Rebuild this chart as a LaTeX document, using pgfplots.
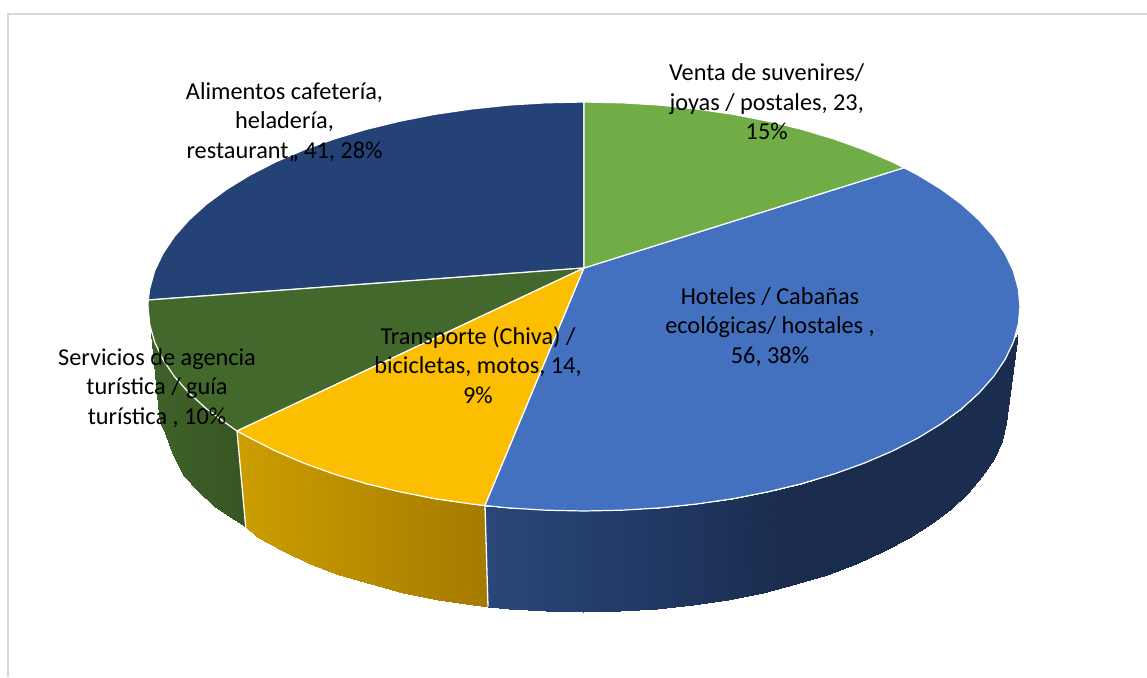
\documentclass[border=0pt]{standalone}
\usepackage{pgfplots}
\pgfplotsset{compat=1.18}
\usepackage{fontspec}
\setmainfont{Carlito}
\definecolor{cgreen}{HTML}{70AD47}
\definecolor{cblue}{HTML}{4371C0}
\definecolor{cyellow}{HTML}{FCBE00}
\definecolor{cdgreen}{HTML}{43682B}
\definecolor{cnavy}{HTML}{254276}
\definecolor{cframe}{HTML}{D9D9D9}
\begin{document}
\begin{tikzpicture}
\path[use as bounding box] (0,0) rectangle (1147pt,677pt);
\begin{axis}[
  at={(0,0)}, anchor=south west,
  scale only axis, width=1147pt, height=677pt,
  xmin=0, xmax=1147, ymin=0, ymax=677, y dir=reverse,
  hide axis, clip=true,
  colormap={sideblue}{rgb255(0)=(43,71,122); rgb255(152)=(33,58,102); rgb255(312)=(26,44,78); rgb255(533)=(27,45,78)},
  colormap={sideyellow}{rgb255(0)=(204,158,0); rgb255(248)=(164,122,0)},
  colormap={sidegreen}{rgb255(0)=(63,98,41); rgb255(95)=(54,85,35)},
]
% frame
\addplot[cframe, line width=2pt] coordinates {(7.5,677)(7.5,14.5)(1147,14.5)};
% side faces: first row the upper rim, second row the lower rim
\addplot[surf, shader=interp, mesh/rows=2, point meta=x, point meta rel=per plot, colormap name=sidegreen] table {
150.5 333
152 336
154.6 342
162.9 359.4
174.3 376.4
188.9 392.9
206.4 408.8
226.8 423.8
237 431
158 405
159.6 423
164.5 433
172.5 455
183.6 475.8
197.8 491
214.9 506.5
234.8 520
245.7 527
};
\addplot[surf, shader=interp, mesh/rows=2, point meta=x, point meta rel=per plot, colormap name=sideyellow] table {
237 431
250 438
275.7 451.1
303.7 463.1
333.9 474
366 483.6
399.7 491.8
434.9 498.7
471.2 504
485 505.5
245.7 527
257.4 537
282.5 551.4
309.8 563.6
339.2 574.6
370.5 584.3
403.4 592.6
437.6 599.5
473 604.9
488 606.7
};
\addplot[surf, shader=interp, mesh/rows=2, point meta=x, point meta rel=per plot, colormap name=sideblue] table {
485 505.5
508.3 507.9
546 510.2
584 511
622 510.2
659.7 507.9
696.8 504
733.1 498.7
768.3 491.8
802 483.6
834.1 474
864.3 463.1
892.3 451.1
918 438
941.2 423.8
961.6 408.8
979.1 392.9
993.7 376.4
1005.1 359.4
1013.4 342
1016 337
1017.7 333.3
488 606.7
509.2 608.9
545.9 611.2
583 612
620.1 611.2
656.8 608.9
693 604.9
728.4 599.5
762.6 592.6
795.5 584.3
826.8 574.6
856.2 563.6
883.5 551.4
908.6 538.1
931.2 523.7
951.1 508.5
968.2 492.5
982.4 475.8
993.5 458.6
1001.5 440.9
1006.4 423
1008 405
};
% dividers on the side
\addplot[white, line width=1.3pt] coordinates {(237,431)(245.7,527)};
\addplot[white, line width=1.3pt] coordinates {(485,505.5)(488,606.7)};
% top face
\addplot[fill=cnavy, draw=white, line width=1.2pt, line join=round] coordinates {
(148.2,300)(149.7,288.7)(154.6,271)(162.9,253.6)(174.3,236.6)(188.9,220.1)(206.4,204.2)(226.8,189.2)(250,175)(275.7,161.9)(303.7,149.9)(333.9,139)(366,129.4)(399.7,121.2)(434.9,114.3)(471.2,109)(508.3,105.1)(546,102.8)(584,102)(584,268)} -- cycle;
\addplot[fill=cdgreen, draw=white, line width=1.2pt, line join=round] coordinates {
(237,431)(226.8,423.8)(206.4,408.8)(188.9,392.9)(174.3,376.4)(162.9,359.4)(154.6,342)(149.7,324.3)(148,306.5)(148.2,300)(584,268)} -- cycle;
\addplot[fill=cyellow, draw=white, line width=1.2pt, line join=round] coordinates {
(485,505.5)(471.2,504)(434.9,498.7)(399.7,491.8)(366,483.6)(333.9,474)(303.7,463.1)(275.7,451.1)(250,438)(237,431)(584,268)} -- cycle;
\addplot[fill=cblue, draw=white, line width=1.2pt, line join=round] coordinates {
(904,167.7)(918,175)(941.2,189.2)(961.6,204.2)(979.1,220.1)(993.7,236.6)(1005.1,253.6)(1013.4,271)(1018.3,288.7)(1020,306.5)(1018.3,324.3)(1013.4,342)(1005.1,359.4)(993.7,376.4)(979.1,392.9)(961.6,408.8)(941.2,423.8)(918,438)(892.3,451.1)(864.3,463.1)(834.1,474)(802,483.6)(768.3,491.8)(733.1,498.7)(696.8,504)(659.7,507.9)(622,510.2)(584,511)(546,510.2)(508.3,507.9)(485,505.5)(584,268)} -- cycle;
\addplot[fill=cgreen, draw=white, line width=1.2pt, line join=round] coordinates {
(584,102)(622,102.8)(659.7,105.1)(696.8,109)(733.1,114.3)(768.3,121.2)(802,129.4)(834.1,139)(864.3,149.9)(892.3,161.9)(904,167.7)(584,268)} -- cycle;
% labels
\tikzset{lab/.style={align=center, text=black, font=\fontsize{24.3}{29.5}\selectfont, inner sep=0pt}}
\node[lab] at (axis cs:284.5,122) {Alimentos cafetería,\\heladería,\\restaurant,, 41, 28\%};
\node[lab] at (axis cs:766.7,102) {Venta de suvenires/\\joyas / postales, 23,\\15\%};
\node[lab] at (axis cs:770,327) {Hoteles / Cabañas\\ecológicas/ hostales ,\\56, 38\%};
\node[lab] at (axis cs:478,365) {Transporte (Chiva) /\\bicicletas, motos, 14,\\9\%};
\node[lab] at (axis cs:157,388) {Servicios de agencia\\turística / guía\\turística , 10\%};
\end{axis}
\end{tikzpicture}
\end{document}
